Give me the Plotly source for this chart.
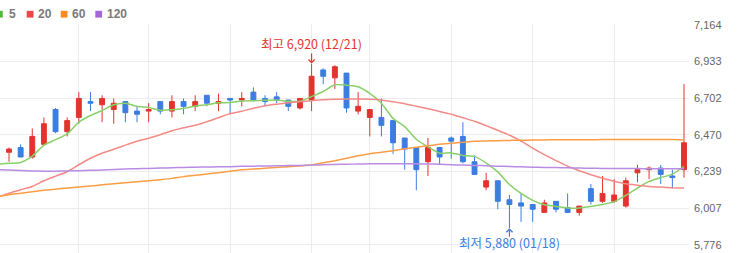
import plotly.graph_objects as go

# ---------------- data ----------------
dates = [
    "2023-11-15", "2023-11-16", "2023-11-17", "2023-11-20", "2023-11-21", "2023-11-22", "2023-11-23",
    "2023-11-24", "2023-11-27", "2023-11-28", "2023-11-29", "2023-11-30", "2023-12-01", "2023-12-04",
    "2023-12-05", "2023-12-06", "2023-12-07", "2023-12-08", "2023-12-11", "2023-12-12", "2023-12-13",
    "2023-12-14", "2023-12-15", "2023-12-18", "2023-12-19", "2023-12-20", "2023-12-21", "2023-12-22",
    "2023-12-26", "2023-12-27", "2023-12-28", "2024-01-02", "2024-01-03", "2024-01-04", "2024-01-05",
    "2024-01-08", "2024-01-09", "2024-01-10", "2024-01-11", "2024-01-12", "2024-01-15", "2024-01-16",
    "2024-01-17", "2024-01-18", "2024-01-19", "2024-01-22", "2024-01-23", "2024-01-24", "2024-01-25",
    "2024-01-26", "2024-01-29", "2024-01-30", "2024-01-31", "2024-02-01", "2024-02-02", "2024-02-05",
    "2024-02-06", "2024-02-07", "2024-02-08",
]
open_ = [6360, 6390, 6330, 6410, 6630, 6490, 6580, 6680, 6660, 6630, 6680, 6620, 6620, 6680, 6620,
         6680, 6650, 6720, 6670, 6700, 6690, 6740, 6700, 6710, 6690, 6640, 6690, 6880, 6830, 6860,
         6620, 6580, 6580, 6560, 6450, 6390, 6300, 6390, 6450, 6460, 6300, 6140, 6180, 6060, 6040,
         6030, 5980, 6050, 6010, 5980, 6130, 6050, 6050, 6020, 6230, 6250, 6260, 6210, 6250]
high = [6390, 6410, 6510, 6580, 6640, 6580, 6740, 6740, 6720, 6700, 6680, 6650, 6670, 6680, 6720,
        6700, 6720, 6720, 6730, 6700, 6740, 6770, 6720, 6740, 6690, 6700, 6920, 6890, 6910, 6860,
        6740, 6630, 6700, 6560, 6450, 6390, 6450, 6390, 6460, 6550, 6340, 6230, 6180, 6090, 6100,
        6030, 6060, 6050, 6100, 6020, 6160, 6210, 6190, 6200, 6280, 6270, 6280, 6250, 6790]
low = [6300, 6330, 6320, 6400, 6480, 6460, 6540, 6620, 6550, 6540, 6550, 6550, 6550, 6600, 6580,
       6600, 6620, 6650, 6620, 6600, 6650, 6680, 6650, 6670, 6620, 6630, 6620, 6790, 6760, 6610,
       6600, 6460, 6460, 6350, 6250, 6120, 6210, 6280, 6320, 6290, 6220, 6120, 6000, 5880, 5920,
       5920, 5980, 5980, 5980, 5960, 6030, 6040, 6040, 6010, 6170, 6190, 6160, 6130, 6200]
close = [6380, 6330, 6460, 6540, 6490, 6560, 6700, 6670, 6700, 6670, 6610, 6600, 6630, 6620, 6680,
         6650, 6680, 6670, 6680, 6690, 6700, 6690, 6680, 6690, 6650, 6700, 6840, 6840, 6900, 6640,
         6650, 6630, 6530, 6420, 6380, 6250, 6390, 6330, 6430, 6300, 6220, 6180, 6050, 6030, 6020,
         6000, 6040, 6000, 5980, 6020, 6050, 6100, 6090, 6180, 6250, 6260, 6220, 6200, 6420]

# moving-average lines, starting one session before the first candle
ma_dates = ["2023-11-14"] + dates
ma5 = [6285, 6290, 6295, 6335, 6405, 6440, 6476, 6550, 6592, 6624, 6660, 6670, 6650, 6642, 6626,
       6628, 6636, 6652, 6660, 6672, 6674, 6684, 6686, 6688, 6690, 6682, 6682, 6712, 6744, 6786,
       6784, 6774, 6732, 6670, 6574, 6522, 6442, 6394, 6354, 6356, 6340, 6334, 6292, 6236, 6156,
       6100, 6056, 6028, 6018, 6008, 6008, 6018, 6030, 6048, 6088, 6134, 6176, 6200, 6222, 6270]
ma20 = [6076, 6101, 6123, 6144, 6180, 6209, 6237, 6281, 6322, 6354, 6379, 6405, 6430, 6449, 6471,
        6496, 6515, 6531, 6553, 6578, 6604, 6619, 6638, 6654, 6664, 6673, 6679, 6686, 6692, 6695,
        6696, 6696, 6695, 6690, 6679, 6667, 6651, 6635, 6618, 6600, 6578, 6556, 6528, 6499, 6468,
        6430, 6386, 6345, 6307, 6272, 6243, 6218, 6196, 6177, 6161, 6152, 6144, 6140, 6136, 6134]
ma60 = [6079, 6092, 6101, 6111, 6120, 6127, 6134, 6141, 6147, 6154, 6161, 6168, 6174, 6180, 6187,
        6195, 6206, 6214, 6223, 6231, 6240, 6250, 6254, 6259, 6264, 6269, 6273, 6279, 6294, 6307,
        6322, 6338, 6351, 6360, 6370, 6382, 6392, 6401, 6411, 6417, 6423, 6429, 6431, 6433, 6435,
        6436, 6437, 6438, 6439, 6439, 6439, 6439, 6440, 6440, 6440, 6440, 6440, 6440, 6440, 6438]
ma120 = [6250, 6248, 6245, 6242, 6240, 6240, 6242, 6243, 6246, 6248, 6251, 6254, 6256, 6258, 6260,
         6262, 6264, 6266, 6267, 6268, 6269, 6271, 6272, 6273, 6274, 6276, 6277, 6279, 6281, 6283,
         6284, 6286, 6287, 6288, 6288, 6288, 6287, 6286, 6284, 6281, 6279, 6277, 6275, 6272, 6270,
         6268, 6266, 6264, 6263, 6262, 6260, 6259, 6258, 6258, 6257, 6257, 6256, 6256, 6256, 6256]

ma_names = ["5", "20", "60", "120"]
ma_series = [ma5, ma20, ma60, ma120]
ma_line_colors = ["#88d068", "#f48a86", "#fb9d45", "#b98ce2"]
legend_colors = ["#52bb3c", "#ef4747", "#fa8b22", "#a466d8"]

y_ticks = [7164, 6933, 6702, 6470, 6239, 6007, 5776]
y_tick_labels = ["7,164", "6,933", "6,702", "6,470", "6,239", "6,007", "5,776"]
grid_idx = [6, 12, 19, 26, 31, 38, 45, 52]

hi_idx, lo_idx = 26, 43
hi_text = "최고 6,920 (12/21)"
lo_text = "최저 5,880 (01/18)"

UP, DOWN = "#e3332f", "#3b7de0"

# ---------------- figure ----------------
fig = go.Figure()
for name, vals, col in zip(ma_names, ma_series, ma_line_colors):
    fig.add_trace(go.Scatter(x=ma_dates, y=vals, mode="lines", name=name,
                             line=dict(color=col, width=1.5, shape="spline", smoothing=0.6),
                             hoverinfo="skip"))

fig.add_trace(go.Candlestick(
    x=dates, open=open_, high=high, low=low, close=close,
    increasing=dict(line=dict(color=UP, width=1), fillcolor=UP),
    decreasing=dict(line=dict(color=DOWN, width=1), fillcolor=DOWN),
    whiskerwidth=0, name="price"))

W, H = 741, 253
ML, MR, MT, MB = 0, 52, 24, 0
PW, PH = W - ML - MR, H - MT - MB
px2x = lambda p: (p - ML) / PW
py2y = lambda p: (H - MB - p) / PH

fig.update_layout(
    width=W, height=H, margin=dict(l=ML, r=MR, t=MT, b=MB),
    paper_bgcolor="white", plot_bgcolor="white", showlegend=False, boxgap=0.4,
    xaxis=dict(type="category", categoryorder="category ascending",
               range=[0.227, 59.43], tickvals=[dates[i] for i in grid_idx],
               showticklabels=False, showgrid=True, gridcolor="#ececec", gridwidth=1,
               zeroline=False, showline=False, ticks="", rangeslider=dict(visible=False)),
    yaxis=dict(side="right", range=[5723.5, 7170.3], tickvals=y_ticks, ticktext=y_tick_labels,
               showgrid=True, gridcolor="#ececec", gridwidth=1, zeroline=False, showline=False,
               ticks="", ticklen=0, ticklabelstandoff=4,
               tickfont=dict(family="Liberation Sans, Arial, sans-serif", size=11, color="#666666")),
    font=dict(family="Liberation Sans, Arial, sans-serif"),
)

# legend (squares + labels), top-left, partially cut at the left edge as in the source
sq_left = [-4, 26.7, 60.7, 95.3]
txt_left = [8.3, 36.7, 70.7, 106]
for name, col, sx, tx in zip(ma_names, legend_colors, sq_left, txt_left):
    fig.add_shape(type="rect", xref="paper", yref="paper",
                  x0=px2x(sx), x1=px2x(sx + 6.8), y0=py2y(17.6), y1=py2y(10.8),
                  fillcolor=col, line=dict(width=0))
    fig.add_annotation(xref="paper", yref="paper", x=px2x(tx), y=py2y(14.3),
                       xanchor="left", yanchor="middle", showarrow=False,
                       text=f"<b>{name}</b>", borderpad=0,
                       font=dict(family="Liberation Sans, Arial, sans-serif", size=12, color="#7a7a7a"))

kfont = "Noto Sans CJK KR, sans-serif"
# highest point: text above, arrow down to the high
fig.add_annotation(x=dates[hi_idx], y=high[hi_idx], text=hi_text, showarrow=True,
                   ax=0, ay=-20, arrowhead=4, arrowsize=1, arrowwidth=1.2, arrowcolor=UP,
                   standoff=0, borderpad=0, font=dict(family=kfont, size=12.5, color=UP))
# lowest point: arrow up to the low, text anchored to the bottom edge
fig.add_annotation(x=dates[lo_idx], y=low[lo_idx], text="", showarrow=True,
                   ax=0, ay=10, arrowhead=4, arrowsize=1, arrowwidth=1.2, arrowcolor=DOWN,
                   standoff=0)
fig.add_annotation(x=dates[lo_idx], xref="x", y=0, yref="paper", text=lo_text, showarrow=False,
                   xanchor="center", yanchor="bottom", borderpad=0,
                   font=dict(family=kfont, size=12.5, color=DOWN))

fig.write_html("out.html")
